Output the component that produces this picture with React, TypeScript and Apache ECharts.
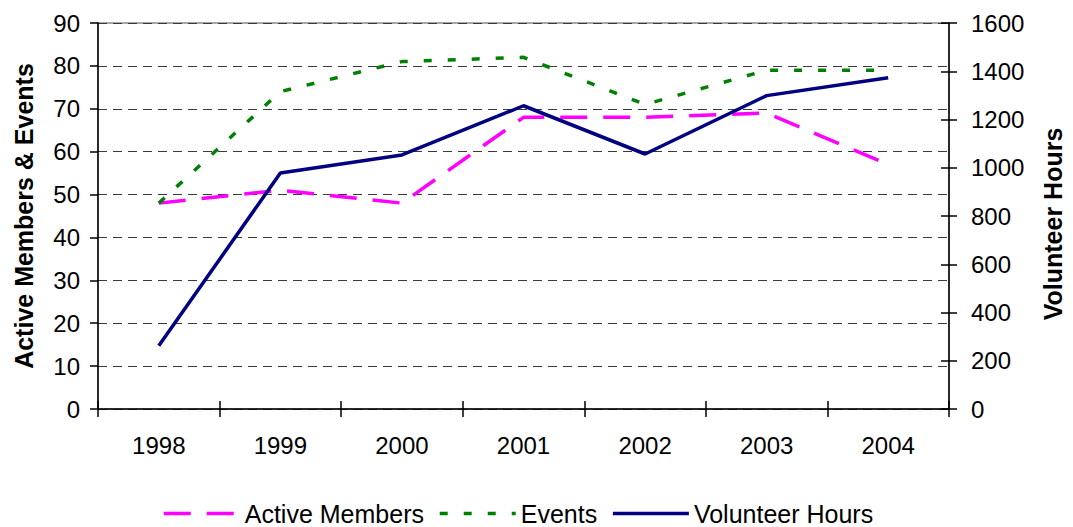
import React, { useEffect, useRef } from "react";
import * as echarts from "echarts";

const years = ["1998", "1999", "2000", "2001", "2002", "2003", "2004"];
const activeMembers = [48, 51, 48, 68, 68, 69, 57];
const events = [48, 74, 81, 82, 71, 79, 79];
const volunteerHours = [262, 978, 1053, 1257, 1057, 1299, 1373];

const FONT = "'Liberation Sans', Arial, sans-serif";
const PINK = "#ff00ff";
const GREEN = "#008000";
const NAVY = "#000080";
const PINK_DASH = [27, 16];
const GREEN_DASH = [8, 16];

export default function App() {
  const ref = useRef<HTMLDivElement>(null);
  useEffect(() => {
    if (!ref.current) return;
    const chart = echarts.init(ref.current, null, { renderer: "svg" });
    const tickLabel = { color: "#000", fontSize: 24, fontFamily: FONT };
    chart.setOption({
      animation: false,
      backgroundColor: "#fff",
      grid: {
        left: 98,
        right: 119,
        top: 23,
        bottom: 118,
        show: true,
        borderColor: "#8c8c8c",
        borderWidth: 1.5,
      },
      legend: {
        bottom: -4,
        left: 157,
        itemWidth: 76,
        itemHeight: 14,
        itemGap: 14,
        itemStyle: { opacity: 0 },
        textStyle: { color: "#000", fontSize: 25, fontFamily: FONT },
        data: [
          { name: "Active Members", itemStyle: { opacity: 0 }, lineStyle: { color: PINK, width: 3.5, type: PINK_DASH } },
          { name: "Events", itemStyle: { opacity: 0 }, lineStyle: { color: GREEN, width: 3.5, type: GREEN_DASH } },
          { name: "Volunteer Hours", itemStyle: { opacity: 0 }, lineStyle: { color: NAVY, width: 3.5 } },
        ],
      },
      xAxis: [
        {
          type: "category",
          data: years,
          boundaryGap: true,
          axisLine: { lineStyle: { color: "#000", width: 1.5 } },
          axisTick: { show: true, length: 8, lineStyle: { color: "#000", width: 1.5 } },
          axisLabel: { ...tickLabel, margin: 24 },
          splitLine: { show: false },
        },
        {
          type: "category",
          data: years,
          position: "bottom",
          boundaryGap: true,
          axisLine: { show: false },
          axisTick: { show: true, inside: true, length: 8, lineStyle: { color: "#000", width: 1.5 } },
          axisLabel: { show: false },
          splitLine: { show: false },
        },
      ],
      yAxis: [
        {
          type: "value",
          min: 0,
          max: 90,
          interval: 10,
          position: "left",
          name: "Active Members & Events",
          nameLocation: "middle",
          nameGap: 62,
          nameRotate: 90,
          nameTextStyle: { color: "#000", fontSize: 25, fontWeight: "bold", fontFamily: FONT },
          axisLine: { show: true, lineStyle: { color: "#000", width: 1.5 } },
          axisTick: { show: true, length: 8, lineStyle: { color: "#000", width: 1.5 } },
          axisLabel: { ...tickLabel, margin: 18 },
          splitLine: {
            show: true,
            lineStyle: { color: "#3a3a3a", width: 1, type: [9, 6] },
          },
        },
        {
          type: "value",
          min: 0,
          max: 1600,
          interval: 200,
          position: "right",
          name: "Volunteer Hours",
          nameLocation: "middle",
          nameGap: 91,
          nameRotate: 90,
          nameTextStyle: { color: "#000", fontSize: 25, fontWeight: "bold", fontFamily: FONT, padding: [0, 16, 0, 0] },
          axisLine: { show: true, lineStyle: { color: "#000", width: 1.5 } },
          axisTick: { show: true, length: 8, lineStyle: { color: "#000", width: 1.5 } },
          axisLabel: { ...tickLabel, margin: 22, formatter: (v: number) => String(v) },
          splitLine: { show: false },
        },
        {
          type: "value",
          min: 0,
          max: 1600,
          interval: 200,
          position: "right",
          axisLine: { show: false },
          axisTick: { show: true, inside: true, length: 8, lineStyle: { color: "#000", width: 1.5 } },
          axisLabel: { show: false },
          splitLine: { show: false },
        },
      ],
      series: [
        {
          name: "Active Members",
          type: "line",
          data: activeMembers,
          yAxisIndex: 0,
          symbol: "none",
          color: PINK,
          lineStyle: { color: PINK, width: 3.5, type: PINK_DASH },
        },
        {
          name: "Events",
          type: "line",
          data: events,
          yAxisIndex: 0,
          symbol: "none",
          color: GREEN,
          lineStyle: { color: GREEN, width: 3.5, type: GREEN_DASH },
        },
        {
          name: "Volunteer Hours",
          type: "line",
          data: volunteerHours,
          yAxisIndex: 1,
          symbol: "none",
          color: NAVY,
          lineStyle: { color: NAVY, width: 3.5 },
        },
      ],
    });
    return () => chart.dispose();
  }, []);
  return (
    <div
      ref={ref}
      style={{ position: "fixed", left: 0, top: 0, width: 1073, height: 527, background: "#fff" }}
    />
  );
}
